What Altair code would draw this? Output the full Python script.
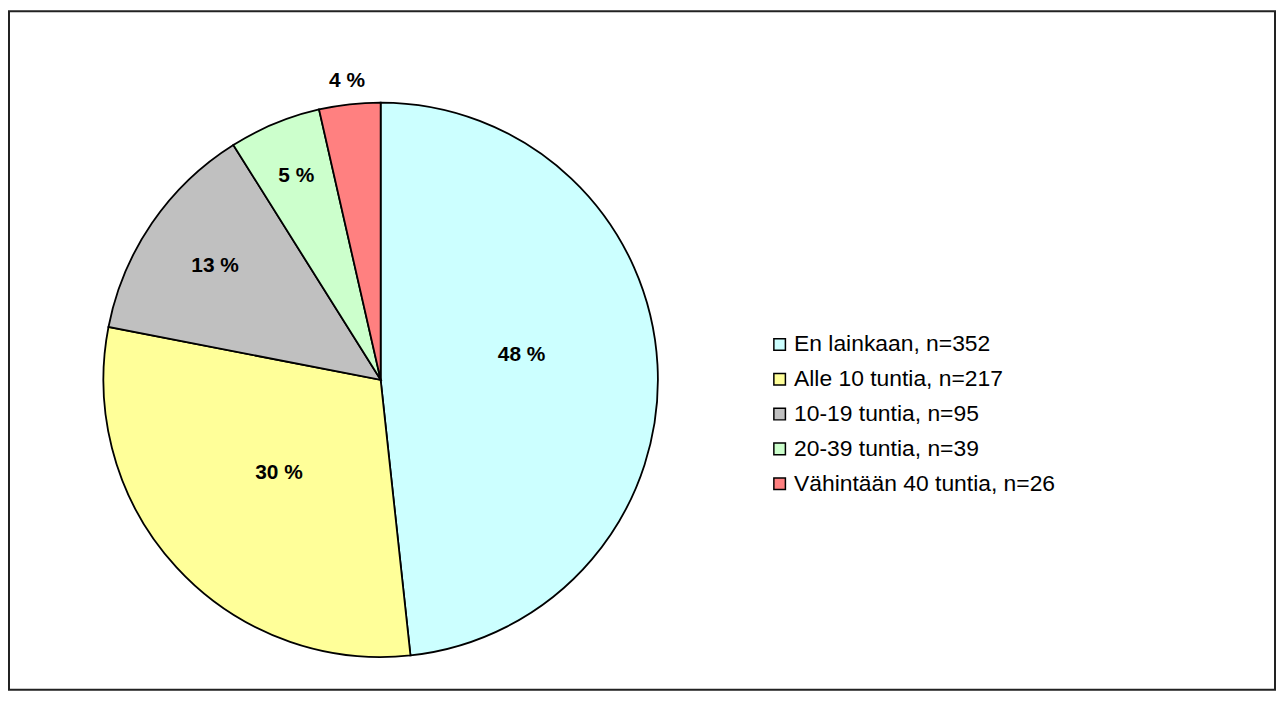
import altair as alt
import pandas as pd

# ---- data ----
categories = [
    "En lainkaan, n=352",
    "Alle 10 tuntia, n=217",
    "10-19 tuntia, n=95",
    "20-39 tuntia, n=39",
    "Vähintään 40 tuntia, n=26",
]
counts = [352, 217, 95, 39, 26]
percent_labels = ["48 %", "30 %", "13 %", "5 %", "4 %"]
colors = ["#CCFFFF", "#FFFF99", "#C0C0C0", "#CCFFCC", "#FF8080"]

df = pd.DataFrame({
    "category": categories,
    "n": counts,
    "label": percent_labels,
    "idx": list(range(len(categories))),
})

# ---- layout (not data) ----
FONT = "Liberation Sans"
CX, CY, R = 374, 371, 279
label_radius = [142, 139, 202, 222, 303]
label_dy = [-17, 0, 0, 0, 0]

base = alt.Chart(df).encode(
    theta=alt.Theta("n:Q", stack=True),
    order=alt.Order("idx:Q"),
    x=alt.value(CX),
    y=alt.value(CY),
)

pie = base.mark_arc(outerRadius=R, stroke="black", strokeWidth=1.8).encode(
    color=alt.Color(
        "category:N",
        sort=categories,
        scale=alt.Scale(domain=categories, range=colors),
        legend=alt.Legend(
            title=None,
            orient="none",
            legendX=764,
            legendY=324,
            symbolType="square",
            symbolSize=135,
            symbolStrokeColor="black",
            symbolStrokeWidth=1.5,
            labelFontSize=23,
            labelFont=FONT,
            labelColor="black",
            labelLimit=0,
            rowPadding=11,
            labelOffset=3,
            padding=0,
        ),
    )
)

texts = []
for i in range(len(categories)):
    texts.append(
        base.mark_text(
            radius=label_radius[i], dy=label_dy[i], fontSize=21,
            fontWeight="bold", font=FONT, color="black",
        ).encode(
            text=alt.condition(alt.datum.idx == i, "label:N", alt.value(""))
        )
    )

chart = alt.layer(pie, *texts).properties(
    width=1274,
    height=683,
    padding=1,
    autosize=alt.AutoSizeParams(type="none"),
).configure_view(stroke="#222222", strokeWidth=2)

chart.save("out.html", embed_options={"renderer": "svg", "actions": False})
